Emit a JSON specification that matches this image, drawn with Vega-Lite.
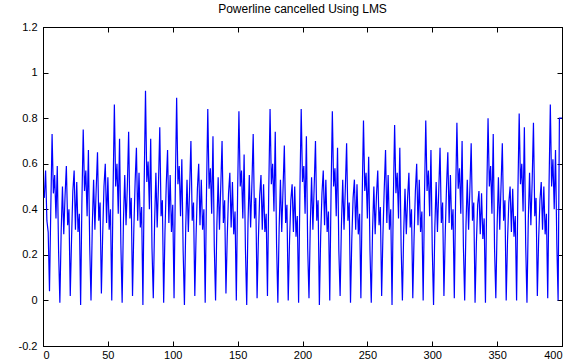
{
 "$schema": "https://vega.github.io/schema/vega-lite/v6.json",
 "width": 519, "height": 319,
 "autosize": {"type": "none"},
 "padding": {"left": 43, "top": 27, "right": 15, "bottom": 16},
 "background": "white",
 "title": {"text": "Powerline cancelled Using LMS", "font": "Liberation Sans", "fontSize": 12, "fontWeight": "normal", "color": "#000000", "offset": 5, "anchor": "middle"},
 "config": {
  "view": {"stroke": "#000000", "strokeWidth": 1},
  "axis": {"grid": false, "domainColor": "#000000", "tickColor": "#000000", "labelFont": "Liberation Sans", "labelFontSize": 11, "labelColor": "#000000", "tickSize": -5, "title": null}
 },
 "data": {"values": [
{"x":1,"y":0.45},{"x":2,"y":0.57},{"x":3,"y":0.35},{"x":4,"y":0.30},
{"x":5,"y":0.04},{"x":6,"y":0.40},{"x":7,"y":0.73},{"x":8,"y":0.47},{"x":9,"y":0.55},{"x":10,"y":0.36},{"x":11,"y":0.59},{"x":12,"y":0.22},{"x":13,"y":-0.01},{"x":14,"y":0.30},{"x":15,"y":0.50},{"x":16,"y":0.29},{"x":17,"y":0.46},{"x":18,"y":0.59},{"x":19,"y":0.33},{"x":20,"y":0.40},{"x":21,"y":0.02},{"x":22,"y":0.27},{"x":23,"y":0.48},{"x":24,"y":0.57},{"x":25,"y":0.31},{"x":26,"y":0.52},{"x":27,"y":0.30},{"x":28,"y":0.38},
{"x":29,"y":-0.02},{"x":30,"y":0.44},{"x":31,"y":0.75},{"x":32,"y":0.48},{"x":33,"y":0.57},{"x":34,"y":0.37},{"x":35,"y":0.66},{"x":36,"y":0.24},{"x":37,"y":0.00},{"x":38,"y":0.33},{"x":39,"y":0.53},{"x":40,"y":0.31},{"x":41,"y":0.49},{"x":42,"y":0.65},{"x":43,"y":0.35},{"x":44,"y":0.43},{"x":45,"y":0.03},{"x":46,"y":0.29},{"x":47,"y":0.50},{"x":48,"y":0.60},{"x":49,"y":0.34},{"x":50,"y":0.54},{"x":51,"y":0.31},{"x":52,"y":0.40},
{"x":53,"y":0.00},{"x":54,"y":0.48},{"x":55,"y":0.86},{"x":56,"y":0.50},{"x":57,"y":0.60},{"x":58,"y":0.38},{"x":59,"y":0.71},{"x":60,"y":0.25},{"x":61,"y":-0.01},{"x":62,"y":0.35},{"x":63,"y":0.55},{"x":64,"y":0.33},{"x":65,"y":0.50},{"x":66,"y":0.74},{"x":67,"y":0.36},{"x":68,"y":0.45},{"x":69,"y":0.02},{"x":70,"y":0.31},{"x":71,"y":0.52},{"x":72,"y":0.67},{"x":73,"y":0.35},{"x":74,"y":0.56},{"x":75,"y":0.32},{"x":76,"y":0.41},
{"x":77,"y":-0.02},{"x":78,"y":0.52},{"x":79,"y":0.92},{"x":80,"y":0.52},{"x":81,"y":0.61},{"x":82,"y":0.40},{"x":83,"y":0.71},{"x":84,"y":0.23},{"x":85,"y":0.01},{"x":86,"y":0.34},{"x":87,"y":0.56},{"x":88,"y":0.32},{"x":89,"y":0.51},{"x":90,"y":0.76},{"x":91,"y":0.37},{"x":92,"y":0.44},{"x":93,"y":-0.01},{"x":94,"y":0.30},{"x":95,"y":0.51},{"x":96,"y":0.66},{"x":97,"y":0.34},{"x":98,"y":0.55},{"x":99,"y":0.30},{"x":100,"y":0.42},
{"x":101,"y":0.01},{"x":102,"y":0.50},{"x":103,"y":0.89},{"x":104,"y":0.51},{"x":105,"y":0.59},{"x":106,"y":0.37},{"x":107,"y":0.62},{"x":108,"y":0.22},{"x":109,"y":-0.02},{"x":110,"y":0.32},{"x":111,"y":0.53},{"x":112,"y":0.30},{"x":113,"y":0.49},{"x":114,"y":0.70},{"x":115,"y":0.35},{"x":116,"y":0.43},{"x":117,"y":0.02},{"x":118,"y":0.29},{"x":119,"y":0.49},{"x":120,"y":0.60},{"x":121,"y":0.33},{"x":122,"y":0.53},{"x":123,"y":0.31},{"x":124,"y":0.40},
{"x":125,"y":-0.01},{"x":126,"y":0.47},{"x":127,"y":0.84},{"x":128,"y":0.49},{"x":129,"y":0.58},{"x":130,"y":0.38},{"x":131,"y":0.72},{"x":132,"y":0.24},{"x":133,"y":0.00},{"x":134,"y":0.33},{"x":135,"y":0.54},{"x":136,"y":0.31},{"x":137,"y":0.50},{"x":138,"y":0.70},{"x":139,"y":0.34},{"x":140,"y":0.44},{"x":141,"y":0.03},{"x":142,"y":0.28},{"x":143,"y":0.47},{"x":144,"y":0.56},{"x":145,"y":0.32},{"x":146,"y":0.52},{"x":147,"y":0.29},{"x":148,"y":0.39},
{"x":149,"y":0.00},{"x":150,"y":0.48},{"x":151,"y":0.83},{"x":152,"y":0.50},{"x":153,"y":0.57},{"x":154,"y":0.36},{"x":155,"y":0.64},{"x":156,"y":0.23},{"x":157,"y":-0.02},{"x":158,"y":0.34},{"x":159,"y":0.55},{"x":160,"y":0.32},{"x":161,"y":0.51},{"x":162,"y":0.73},{"x":163,"y":0.36},{"x":164,"y":0.45},{"x":165,"y":0.01},{"x":166,"y":0.27},{"x":167,"y":0.46},{"x":168,"y":0.55},{"x":169,"y":0.31},{"x":170,"y":0.51},{"x":171,"y":0.30},{"x":172,"y":0.38},
{"x":173,"y":0.02},{"x":174,"y":0.49},{"x":175,"y":0.84},{"x":176,"y":0.51},{"x":177,"y":0.60},{"x":178,"y":0.39},{"x":179,"y":0.74},{"x":180,"y":0.25},{"x":181,"y":-0.01},{"x":182,"y":0.32},{"x":183,"y":0.53},{"x":184,"y":0.30},{"x":185,"y":0.49},{"x":186,"y":0.68},{"x":187,"y":0.34},{"x":188,"y":0.42},{"x":189,"y":0.00},{"x":190,"y":0.26},{"x":191,"y":0.44},{"x":192,"y":0.51},{"x":193,"y":0.30},{"x":194,"y":0.50},{"x":195,"y":0.28},{"x":196,"y":0.37},
{"x":197,"y":-0.01},{"x":198,"y":0.48},{"x":199,"y":0.84},{"x":200,"y":0.52},{"x":201,"y":0.59},{"x":202,"y":0.38},{"x":203,"y":0.72},{"x":204,"y":0.23},{"x":205,"y":0.01},{"x":206,"y":0.33},{"x":207,"y":0.54},{"x":208,"y":0.31},{"x":209,"y":0.50},{"x":210,"y":0.70},{"x":211,"y":0.35},{"x":212,"y":0.44},{"x":213,"y":-0.02},{"x":214,"y":0.28},{"x":215,"y":0.47},{"x":216,"y":0.57},{"x":217,"y":0.33},{"x":218,"y":0.53},{"x":219,"y":0.30},{"x":220,"y":0.39},
{"x":221,"y":0.00},{"x":222,"y":0.47},{"x":223,"y":0.83},{"x":224,"y":0.50},{"x":225,"y":0.58},{"x":226,"y":0.37},{"x":227,"y":0.67},{"x":228,"y":0.22},{"x":229,"y":0.02},{"x":230,"y":0.33},{"x":231,"y":0.53},{"x":232,"y":0.31},{"x":233,"y":0.49},{"x":234,"y":0.69},{"x":235,"y":0.35},{"x":236,"y":0.43},{"x":237,"y":-0.01},{"x":238,"y":0.27},{"x":239,"y":0.45},{"x":240,"y":0.53},{"x":241,"y":0.31},{"x":242,"y":0.51},{"x":243,"y":0.29},{"x":244,"y":0.38},
{"x":245,"y":0.01},{"x":246,"y":0.45},{"x":247,"y":0.79},{"x":248,"y":0.48},{"x":249,"y":0.56},{"x":250,"y":0.36},{"x":251,"y":0.63},{"x":252,"y":0.22},{"x":253,"y":-0.01},{"x":254,"y":0.31},{"x":255,"y":0.50},{"x":256,"y":0.29},{"x":257,"y":0.46},{"x":258,"y":0.57},{"x":259,"y":0.33},{"x":260,"y":0.41},{"x":261,"y":0.02},{"x":262,"y":0.29},{"x":263,"y":0.49},{"x":264,"y":0.66},{"x":265,"y":0.34},{"x":266,"y":0.55},{"x":267,"y":0.31},{"x":268,"y":0.40},
{"x":269,"y":-0.02},{"x":270,"y":0.44},{"x":271,"y":0.77},{"x":272,"y":0.47},{"x":273,"y":0.56},{"x":274,"y":0.36},{"x":275,"y":0.67},{"x":276,"y":0.24},{"x":277,"y":0.00},{"x":278,"y":0.30},{"x":279,"y":0.49},{"x":280,"y":0.29},{"x":281,"y":0.45},{"x":282,"y":0.56},{"x":283,"y":0.32},{"x":284,"y":0.40},{"x":285,"y":0.01},{"x":286,"y":0.28},{"x":287,"y":0.48},{"x":288,"y":0.60},{"x":289,"y":0.33},{"x":290,"y":0.53},{"x":291,"y":0.30},{"x":292,"y":0.39},
{"x":293,"y":0.00},{"x":294,"y":0.45},{"x":295,"y":0.79},{"x":296,"y":0.48},{"x":297,"y":0.57},{"x":298,"y":0.37},{"x":299,"y":0.66},{"x":300,"y":0.23},{"x":301,"y":-0.02},{"x":302,"y":0.32},{"x":303,"y":0.52},{"x":304,"y":0.30},{"x":305,"y":0.48},{"x":306,"y":0.67},{"x":307,"y":0.34},{"x":308,"y":0.43},{"x":309,"y":0.02},{"x":310,"y":0.29},{"x":311,"y":0.50},{"x":312,"y":0.65},{"x":313,"y":0.34},{"x":314,"y":0.55},{"x":315,"y":0.31},{"x":316,"y":0.40},
{"x":317,"y":0.01},{"x":318,"y":0.45},{"x":319,"y":0.78},{"x":320,"y":0.49},{"x":321,"y":0.58},{"x":322,"y":0.38},{"x":323,"y":0.70},{"x":324,"y":0.24},{"x":325,"y":0.00},{"x":326,"y":0.33},{"x":327,"y":0.53},{"x":328,"y":0.31},{"x":329,"y":0.49},{"x":330,"y":0.69},{"x":331,"y":0.35},{"x":332,"y":0.43},{"x":333,"y":-0.01},{"x":334,"y":0.25},{"x":335,"y":0.42},{"x":336,"y":0.48},{"x":337,"y":0.29},{"x":338,"y":0.47},{"x":339,"y":0.27},{"x":340,"y":0.36},
{"x":341,"y":-0.01},{"x":342,"y":0.46},{"x":343,"y":0.80},{"x":344,"y":0.50},{"x":345,"y":0.59},{"x":346,"y":0.38},{"x":347,"y":0.73},{"x":348,"y":0.23},{"x":349,"y":0.01},{"x":350,"y":0.33},{"x":351,"y":0.54},{"x":352,"y":0.31},{"x":353,"y":0.50},{"x":354,"y":0.69},{"x":355,"y":0.35},{"x":356,"y":0.44},{"x":357,"y":0.00},{"x":358,"y":0.26},{"x":359,"y":0.43},{"x":360,"y":0.50},{"x":361,"y":0.30},{"x":362,"y":0.49},{"x":363,"y":0.28},{"x":364,"y":0.37},
{"x":365,"y":0.00},{"x":366,"y":0.47},{"x":367,"y":0.82},{"x":368,"y":0.51},{"x":369,"y":0.60},{"x":370,"y":0.39},{"x":371,"y":0.76},{"x":372,"y":0.25},{"x":373,"y":-0.01},{"x":374,"y":0.35},{"x":375,"y":0.56},{"x":376,"y":0.33},{"x":377,"y":0.52},{"x":378,"y":0.78},{"x":379,"y":0.37},{"x":380,"y":0.45},{"x":381,"y":0.02},{"x":382,"y":0.27},{"x":383,"y":0.44},{"x":384,"y":0.52},{"x":385,"y":0.31},{"x":386,"y":0.50},{"x":387,"y":0.29},{"x":388,"y":0.38},
{"x":389,"y":0.01},{"x":390,"y":0.50},{"x":391,"y":0.86},{"x":392,"y":0.50},{"x":393,"y":0.62},{"x":394,"y":0.40},{"x":395,"y":0.66},{"x":396,"y":0.25},{"x":397,"y":0.00},{"x":398,"y":0.80},{"x":399,"y":0.80},{"x":400,"y":0.80}
 ]},
 "layer": [
  {
   "mark": {"type": "line", "color": "#0000ff", "strokeWidth": 1.2, "clip": true},
   "encoding": {
    "x": {"field": "x", "type": "quantitative", "scale": {"domain": [0, 400], "nice": false}, "axis": {"values": [0, 50, 100, 150, 200, 250, 300, 350, 400], "labelPadding": 8, "title": null}},
    "y": {"field": "y", "type": "quantitative", "scale": {"domain": [-0.2, 1.2], "nice": false, "zero": false}, "axis": {"values": [-0.2, 0, 0.2, 0.4, 0.6, 0.8, 1, 1.2], "labelExpr": "toString(round(datum.value*10)/10)", "labelPadding": 11, "title": null}}
   }
  },
  {
   "mark": {"type": "line", "opacity": 0},
   "encoding": {
    "x": {"field": "x", "type": "quantitative", "axis": {"orient": "top", "values": [0, 50, 100, 150, 200, 250, 300, 350, 400], "labels": false, "title": null}},
    "y": {"field": "y", "type": "quantitative", "axis": {"orient": "right", "values": [-0.2, 0, 0.2, 0.4, 0.6, 0.8, 1, 1.2], "labels": false, "title": null}}
   }
  }
 ],
 "resolve": {"axis": {"x": "independent", "y": "independent"}}
}
